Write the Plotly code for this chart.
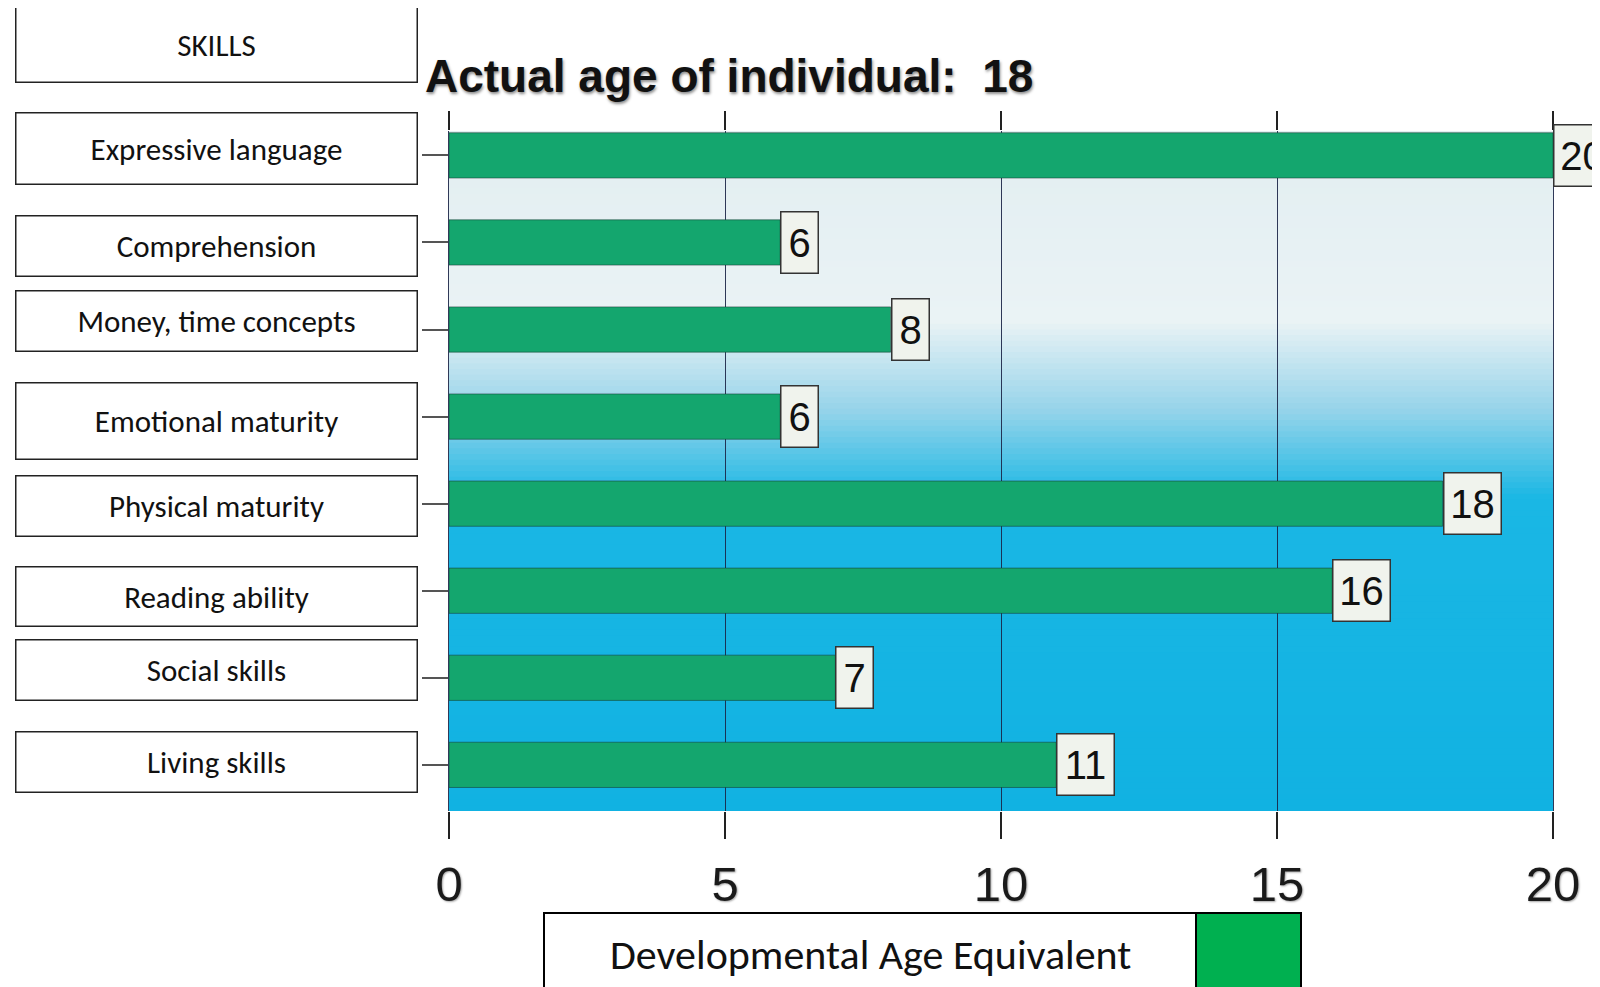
import plotly.graph_objects as go

# ---------------- data ----------------
skills = ["Expressive language", "Comprehension", "Money, time concepts",
          "Emotional maturity", "Physical maturity", "Reading ability",
          "Social skills", "Living skills"]
dev_age = [20, 6, 8, 6, 18, 16, 7, 11]
actual_age = 18
x_ticks = [0, 5, 10, 15, 20]
series_name = "Developmental Age Equivalent"
header = "SKILLS"

# ---------------- styling ----------------
W, H = 1600, 987
OFF = 8  # page body margin offset
PL, PT, PR, PB = 449, 131, 1553, 811  # plot area in page pixels
L, T = PL - OFF, PT - OFF
R, B = W - (PR - OFF), H - (PB - OFF)
PW, PH = PR - PL, PB - PT

def px_x(p):
    return (p - PL) / PW

def px_y(p):
    return (PB - p) / PH

GREEN = "rgb(20,166,110)"
SANS = "Liberation Sans Narrow, Arial Narrow, Liberation Sans, Arial, sans-serif"
BOXFONT = "Carlito, Calibri, Lato, Open Sans, sans-serif"

fig = go.Figure()
fig.add_trace(go.Bar(
    x=dev_age, y=skills, orientation="h",
    marker=dict(color=GREEN, line=dict(color="rgba(20,50,45,0.5)", width=1)),
    showlegend=False, hoverinfo="x+y",
))
# helper trace to activate a top axis for the upper tick marks
fig.add_trace(go.Scatter(x=[None], y=[None], xaxis="x2", showlegend=False, hoverinfo="skip"))

# gradient background
stops = [(0.0, (17, 178, 226)), (0.46, (26, 183, 228)), (0.59, (150, 212, 234)),
         (0.72, (234, 243, 245)), (1.0, (226, 238, 241))]
def col(t):
    for (a, ca), (b, cb) in zip(stops[:-1], stops[1:]):
        if a <= t <= b:
            f = (t - a) / (b - a) if b > a else 0
            return "rgb(%d,%d,%d)" % tuple(round(ca[i] + (cb[i] - ca[i]) * f) for i in range(3))
    return "rgb(%d,%d,%d)" % stops[-1][1]
N = 120
shapes = []
for i in range(N):
    y0, y1 = i / N, (i + 1) / N + 0.002
    shapes.append(dict(type="rect", xref="x domain", yref="y domain", x0=0, x1=1,
                       y0=y0, y1=min(y1, 1), fillcolor=col((i + 0.5) / N),
                       line=dict(width=0), layer="below"))

# legend box
lx0, lx1, lx2 = 544, 1196, 1301
ly0, ly1 = 913, 1010
shapes.append(dict(type="rect", xref="paper", yref="paper", x0=px_x(lx0), x1=px_x(lx1),
                   y0=px_y(ly1), y1=px_y(ly0), fillcolor="white",
                   line=dict(color="black", width=2)))
shapes.append(dict(type="rect", xref="paper", yref="paper", x0=px_x(lx1), x1=px_x(lx2),
                   y0=px_y(ly1), y1=px_y(ly0), fillcolor="rgb(0,176,80)",
                   line=dict(color="black", width=2)))

annotations = []
# title
annotations.append(dict(
    text="Actual age of individual:&nbsp;&nbsp;" + str(actual_age),
    xref="paper", yref="paper", x=px_x(423), y=px_y(76), xanchor="left", yanchor="middle",
    showarrow=False,
    font=dict(family=SANS, size=46, color="#111", weight="bold",
              shadow="1px 2px 3px rgba(0,0,0,0.45)")))
# header box
annotations.append(dict(
    text=header, xref="paper", yref="paper", x=px_x(216), y=px_y(44.5),
    xanchor="center", yanchor="middle", showarrow=False,
    width=400, height=74, bgcolor="white", bordercolor="#222", borderwidth=1.5, borderpad=0,
    font=dict(family=BOXFONT, size=31, color="#111")))
# skill label boxes
box_h = [70, 59, 59, 75, 59, 58, 59, 59]
box_shift = [7, -4, 9, -4, -2, -6, 8, 3]
for s, h, sh in zip(skills, box_h, box_shift):
    annotations.append(dict(
        text=s, xref="paper", yref="y", x=px_x(216), y=s, yshift=sh,
        xanchor="center", yanchor="middle", showarrow=False,
        width=400, height=h, bgcolor="white", bordercolor="#222", borderwidth=1.5, borderpad=0,
        font=dict(family=BOXFONT, size=31, color="#111")))
# value label boxes
for s, v in zip(skills, dev_age):
    annotations.append(dict(
        text=str(v), xref="x", yref="y", x=v, y=s, xanchor="left", yanchor="middle",
        showarrow=False, width=34 if len(str(v)) == 1 else 54, height=58,
        bgcolor="rgb(240,243,237)", bordercolor="#333", borderwidth=1.5, borderpad=1,
        font=dict(family=SANS, size=40, color="#111")))
# legend text
annotations.append(dict(
    text=series_name, xref="paper", yref="paper", x=px_x((lx0 + lx1) / 2), y=px_y(955),
    xanchor="center", yanchor="middle", showarrow=False,
    font=dict(family=BOXFONT, size=42, color="#111")))

fig.update_layout(
    width=W, height=H, margin=dict(l=L, r=R, t=T, b=B, autoexpand=False),
    paper_bgcolor="white", plot_bgcolor="rgba(0,0,0,0)",
    bargap=0.48, shapes=shapes, annotations=annotations,
    xaxis=dict(range=[0, 20], tickvals=x_ticks, ticktext=[str(t) for t in x_ticks],
               showgrid=True, gridcolor="rgba(25,35,70,0.9)", gridwidth=1,
               zeroline=False, showline=False,
               ticks="outside", ticklen=27, tickwidth=1.5, tickcolor="#222",
               ticklabelstandoff=3,
               tickfont=dict(family=SANS, size=49, color="#1a1a1a",
                             shadow="1px 1px 2px rgba(0,0,0,0.35)")),
    xaxis2=dict(range=[0, 20], tickvals=x_ticks, overlaying="x", side="top", anchor="y",
                showgrid=False, zeroline=False, showticklabels=False,
                ticks="outside", ticklen=19, tickwidth=1.5, tickcolor="#222"),
    yaxis=dict(type="category", categoryarray=skills, range=[7.53, -0.28],
               showgrid=False, zeroline=False, showticklabels=False,
               showline=True, mirror=True, linecolor="rgba(25,35,70,0.9)", linewidth=1,
               ticks="outside", ticklen=26, tickwidth=2, tickcolor="#555"),
    showlegend=False,
)

fig.write_html("out.html")
